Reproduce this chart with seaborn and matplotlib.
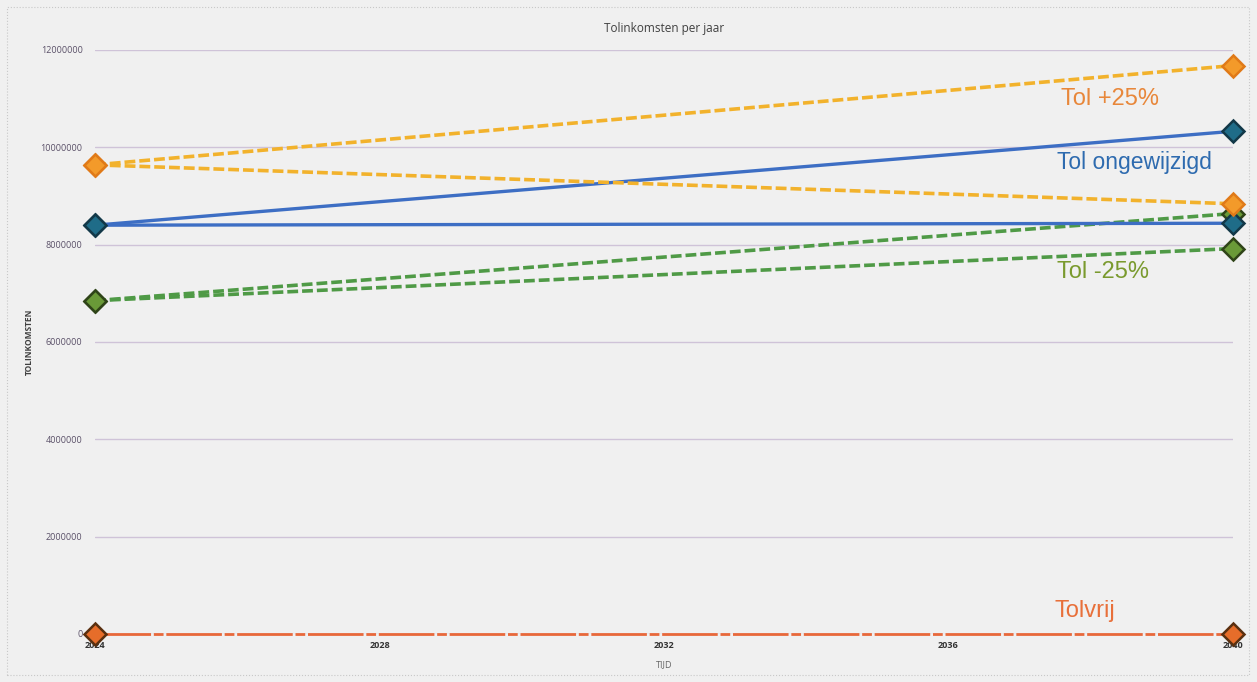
import matplotlib
matplotlib.use("Agg")
import matplotlib.pyplot as plt
from matplotlib.patches import Rectangle
import seaborn as sns
import pandas as pd

# Jaarlijkse tolinkomsten per scenario (twee varianten per scenario)
jaren = [2024, 2040]
tol_plus_hoog = [9640000, 11680000]
tol_plus_laag = [9640000, 8840000]
ongewijzigd_hoog = [8400000, 10330000]
ongewijzigd_laag = [8400000, 8440000]
tol_min_hoog = [6850000, 8640000]
tol_min_laag = [6850000, 7920000]
tolvrij = [0, 0]

y_ticks = [0, 2000000, 4000000, 6000000, 8000000, 10000000, 12000000]
x_ticks = [2024, 2028, 2032, 2036, 2040]

sns.set_theme(style="white")
plt.rcParams["font.family"] = ["Open Sans", "DejaVu Sans"]

fig = plt.figure(figsize=(12.57, 6.82), dpi=100, facecolor="#f0f0f0")
ax = fig.add_axes([0.0756, 0.0704, 0.9053, 0.8563])
ax.set_facecolor("#f0f0f0")

# dotted frame around the chart area
fig.patches.append(Rectangle((0.0056, 0.0103), 0.988, 0.979, transform=fig.transFigure,
                             fill=False, edgecolor="#c8c8c8", linestyle=":", linewidth=0.8))

dash = (0, (3, 1.1))
series = [
    (tolvrij, "#e8683a", (0, (20, 1.0, 3.5, 1.0)), 2.0, "#e66d2a", "#5a3010"),
    (tol_min_laag, "#4f9a46", dash, 2.6, "#6a9a38", "#2f4418"),
    (tol_min_hoog, "#4f9a46", dash, 2.6, "#6a9a38", "#2f4418"),
    (ongewijzigd_laag, "#3d6ec4", "-", 2.4, "#1f6c88", "#123848"),
    (ongewijzigd_hoog, "#3d6ec4", "-", 2.4, "#1f6c88", "#123848"),
    (tol_plus_laag, "#f2b22c", dash, 2.6, "#f39a2a", "#e07a18"),
    (tol_plus_hoog, "#f2b22c", dash, 2.6, "#f39a2a", "#e07a18"),
]

for vals, col, ls, lw, mfc, mec in series:
    df = pd.DataFrame({"jaar": jaren, "inkomsten": vals})
    sns.lineplot(data=df, x="jaar", y="inkomsten", ax=ax, color=col, linewidth=lw,
                 linestyle=ls, marker="D", markersize=11, markerfacecolor=mfc,
                 markeredgecolor=mec, markeredgewidth=1.8, clip_on=False, zorder=3)

ax.set_xlim(2024, 2040)
ax.set_ylim(0, 12000000)
ax.set_yticks(y_ticks)
ax.set_yticklabels([str(v) for v in y_ticks])
ax.set_xticks(x_ticks)
ax.set_xticklabels([str(v) for v in x_ticks])
ax.grid(axis="y", color="#cfc3d8", linewidth=1)
ax.grid(axis="x", visible=False)
for s in ax.spines.values():
    s.set_visible(False)
ax.tick_params(axis="y", length=0, pad=9, labelsize=6.5, labelcolor="#5a5068")
ax.tick_params(axis="x", length=0, pad=5, labelsize=6.5, labelcolor="#333333")
for t in ax.get_xticklabels():
    t.set_fontweight("bold")

ax.set_xlabel("TIJD", fontsize=6.5, color="#666666", labelpad=7)
ax.set_ylabel("TOLINKOMSTEN", fontsize=6, color="#404040", fontweight="bold", labelpad=5)
ax.set_title("Tolinkomsten per jaar", fontsize=8.5, color="#404040", pad=13)

lab_font = ["Liberation Sans", "DejaVu Sans"]
ax.text(2038.27, 10990000, "Tol +25%", color="#e8873a", fontsize=17, ha="center", va="center", family=lab_font)
ax.text(2038.62, 9680000, "Tol ongewijzigd", color="#2e6baf", fontsize=16.5, ha="center", va="center", family=lab_font)
ax.text(2038.17, 7440000, "Tol -25%", color="#7a9a2e", fontsize=17, ha="center", va="center", family=lab_font)
ax.text(2037.92, 470000, "Tolvrij", color="#e8703a", fontsize=17, ha="center", va="center", family=lab_font)

fig.savefig("out.png", dpi=100, facecolor=fig.get_facecolor())
